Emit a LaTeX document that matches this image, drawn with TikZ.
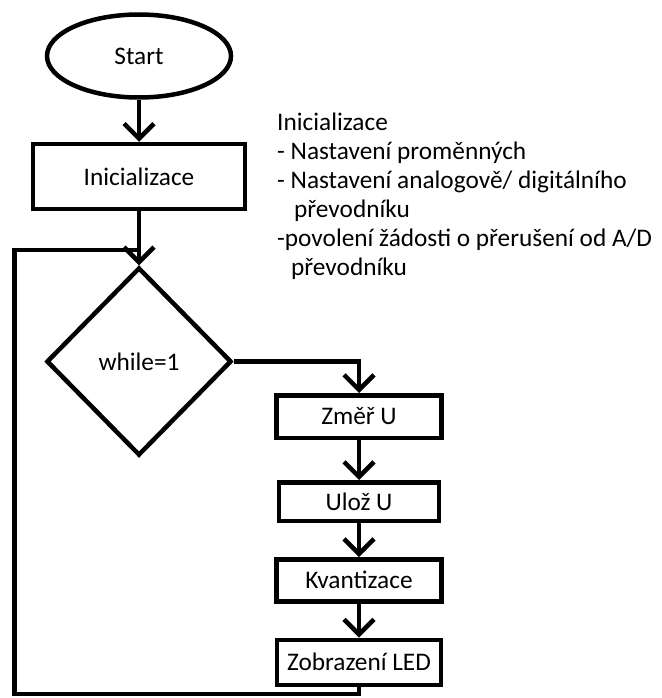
\documentclass[tikz,border=0pt]{standalone}
\usepackage{fontspec}
\setmainfont{Carlito}
\usetikzlibrary{positioning,shapes.geometric,arrows.meta,calc}

\begin{document}
\begin{tikzpicture}[x=1pt, y=1pt,
	every node/.style={font=\fontsize{25.3pt}{29pt}\selectfont},
	terminal/.style={ellipse, draw=black, line width=4.5pt, minimum width=184pt, minimum height=83pt},
	main/.style={rectangle, draw=black, line width=4.5pt, text centered, minimum width=#1, minimum height=42pt},
	decision/.style={diamond, draw=black, line width=4.5pt, minimum width=185pt, minimum height=188pt, inner sep=0pt},
	flow/.style={-{Straight Barb[length=15pt, width=30pt]}, line width=4.5pt},
	line/.style={line width=4.5pt}
	]
	\useasboundingbox (0,0) rectangle (661,-698);

		\node (start) [terminal] at (139,-56) {Start};
		\node (init) [main=212pt, minimum height=65pt, below=42pt of start] {Inicializace};
		\node (cond) [decision, below=54pt of init] {while=1};
		\node (measure) [main=165pt, minimum height=42.5pt, anchor=north] at (359,-393) {Změř U};
			\node (store) [main=160pt, minimum height=38.5pt, below=40pt of measure] {Ulož U};
			\node (quant) [main=165pt, below=34pt of store] {Kvantizace};
			\node (display) [main=164pt, minimum height=45pt, below=34pt of quant] {Zobrazení LED};

		\node (note) [anchor=north west, align=left, inner sep=0pt] at (277,-113) {Inicializace\\
			- Nastavení proměnných\\
			- Nastavení analogově/ digitálního\\
			\hspace*{17pt}převodníku\\
			-povolení žádosti o přerušení od A/D\\
			\hspace*{14pt}převodníku};

		\coordinate (join) at ($(init.south)!0.72!(cond.north)$);
		\coordinate (corner) at (14.5,-694);

	\draw [flow] (start.south) -- (init.north);
	\draw [flow] (init.south) -- (cond.north);
	\draw [flow] (cond.east) -| (measure.north);
	\draw [flow] (measure.south) -- (store.north);
	\draw [flow] (store.south) -- (quant.north);
	\draw [flow] (quant.south) -- (display.north);

	\draw [line] (display.south) |- (corner) |- (join);

\end{tikzpicture}
\end{document}
